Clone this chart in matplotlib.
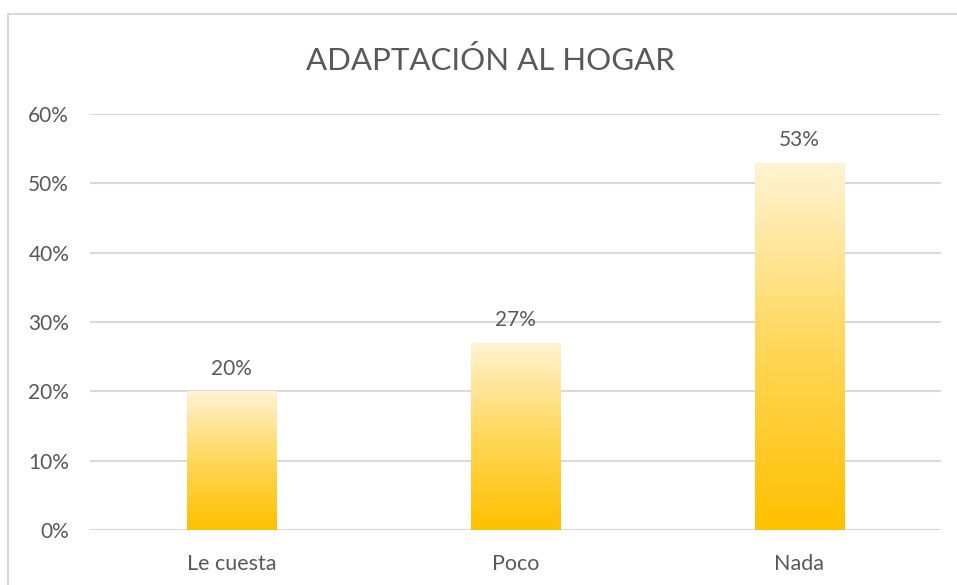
import matplotlib
matplotlib.use("Agg")
import matplotlib.pyplot as plt
import numpy as np
from matplotlib.colors import LinearSegmentedColormap
from matplotlib.lines import Line2D

categories = ["Le cuesta", "Poco", "Nada"]
values = [0.20, 0.27, 0.53]
labels = ["20%", "27%", "53%"]
yticks = [0, 0.1, 0.2, 0.3, 0.4, 0.5, 0.6]
ytick_labels = ["0%", "10%", "20%", "30%", "40%", "50%", "60%"]

plt.rcParams['font.family'] = ['Lato', 'DejaVu Sans']
text_color = "#595959"
grid_color = "#D9D9D9"

fig = plt.figure(figsize=(9.57, 5.85), dpi=100)
ax = fig.add_axes([90/957, 55/585, 851/957, 416/585])

x = np.arange(len(categories))
bars = ax.bar(x, values, width=0.314, color="none", zorder=3)

cmap = LinearSegmentedColormap.from_list("g", ["#FFC000", "#FFD75A", "#FFF3D3"])
grad = np.linspace(0, 1, 256).reshape(-1, 1)
for b in bars:
    x0, y0 = b.get_x(), b.get_y()
    w, h = b.get_width(), b.get_height()
    im = ax.imshow(grad, cmap=cmap, origin="lower", aspect="auto",
                   extent=[x0, x0 + w, y0, y0 + h], zorder=3)
    im.set_clip_path(b)

ax.set_xlim(-0.5, len(categories) - 0.5)
ax.set_ylim(0, 0.6)
ax.set_yticks(yticks)
ax.set_yticklabels(ytick_labels)
ax.set_xticks(x)
ax.set_xticklabels(categories)
ax.tick_params(axis="y", length=0, colors=text_color, labelsize=15, pad=15)
ax.tick_params(axis="x", length=0, colors=text_color, labelsize=15.5, pad=17)
ax.yaxis.grid(True, color=grid_color, linewidth=1.5, zorder=0)
ax.set_axisbelow(True)
for s in ax.spines.values():
    s.set_visible(False)

for xi, v, lab in zip(x, values, labels):
    ax.annotate(lab, (xi, v), xytext=(0, 9), textcoords="offset points",
                ha="center", va="bottom", color=text_color, fontsize=15)

fig.text(490/957, 1 - 61/585, "ADAPTACIÓN AL HOGAR", ha="center", va="center",
         color=text_color, fontsize=22.5)

fig.add_artist(Line2D([8/957, 8/957], [0, 1 - 14/585], transform=fig.transFigure,
                      color=grid_color, linewidth=1.5))
fig.add_artist(Line2D([8/957, 1], [1 - 14/585, 1 - 14/585], transform=fig.transFigure,
                      color=grid_color, linewidth=1.5))

fig.savefig("out.png", dpi=100)
